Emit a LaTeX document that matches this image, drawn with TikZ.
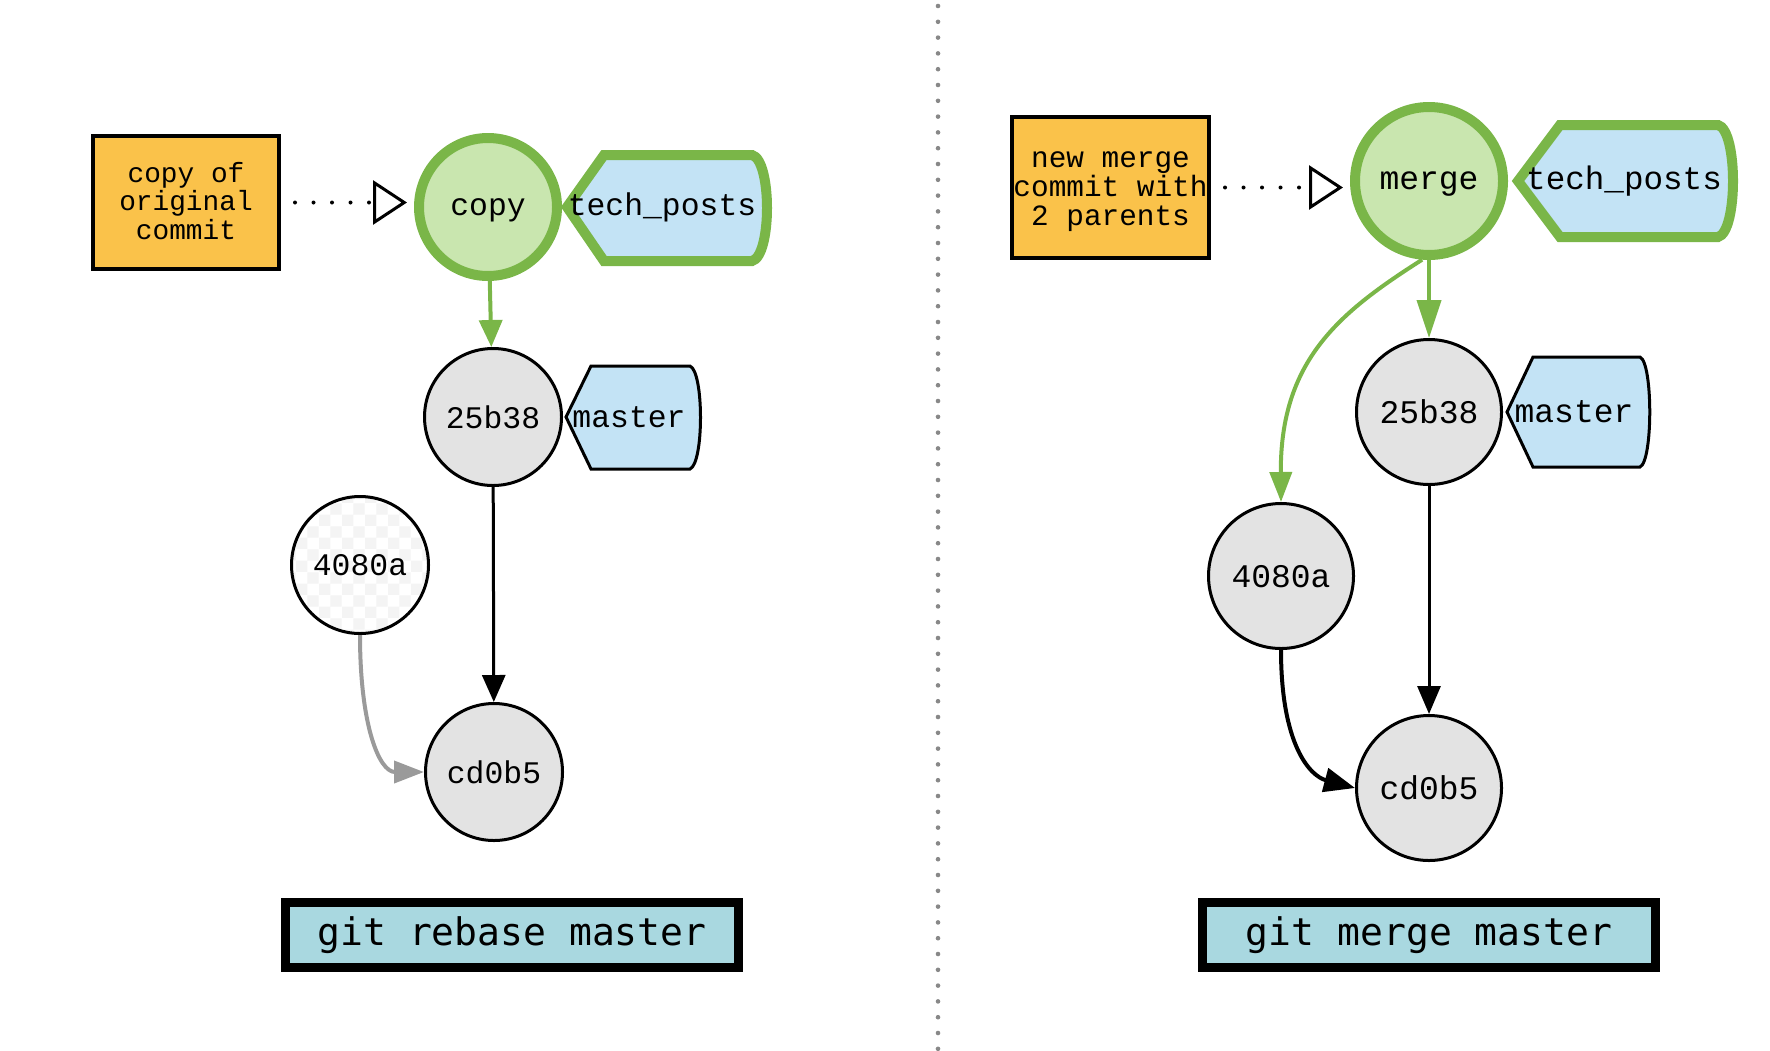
\documentclass[tikz,border=0pt]{standalone}
\usepackage{fontspec}
\setmonofont{Liberation Mono}
\newfontfamily\cmdfont{DejaVu Sans Mono}
\usetikzlibrary{arrows.meta,patterns}
\definecolor{orng}{HTML}{FAC24A}
\definecolor{grn}{HTML}{7AB648}
\definecolor{lgrn}{HTML}{C9E6AF}
\definecolor{lblue}{HTML}{C3E3F5}
\definecolor{cgray}{HTML}{E3E3E3}
\definecolor{cmdc}{HTML}{A9D8E0}
\definecolor{sepc}{HTML}{888888}
\definecolor{arrgray}{HTML}{9A9A9A}
\begin{document}
\begin{tikzpicture}[x=0.5pt,y=-0.5pt,
  commitL/.style={circle, draw=black, line width=1.5pt, fill=cgray, inner sep=0pt, minimum size=68.5pt, text depth=0pt, font=\ttfamily\fontsize{15.7}{18}\selectfont},
  commitR/.style={circle, draw=black, line width=1.5pt, fill=cgray, inner sep=0pt, minimum size=72.5pt, text depth=0pt, font=\ttfamily\fontsize{16.5}{19}\selectfont},
  headc/.style={circle, draw=grn, line width=5pt, fill=lgrn, inner sep=0pt, text depth=0pt},
  notebox/.style={draw=black, line width=2pt, fill=orng, inner sep=0pt},
  notetext/.style={align=center, inner sep=0pt},
  cmdbox/.style={draw=black, line width=4.5pt, fill=cmdc, inner sep=0pt, minimum width=226.5pt, minimum height=32.5pt, font=\cmdfont\fontsize{19}{22}\selectfont},
  tagtext/.style={inner sep=0pt},
  dotarrow/.style={line width=2pt, dash pattern=on 0pt off 9.25pt, line cap=round, -{Triangle[open, length=17pt, width=22pt, line width=1.5pt]}},
]
\useasboundingbox (0,0) rectangle (1770,1050);

% separator
\draw[sepc, line width=2.3pt, dash pattern=on 0pt off 7.9pt, line cap=round] (938,6) -- (938,1050);

% ---------- left: rebase ----------
\node[notebox, minimum width=93pt, minimum height=66.5pt] (noteL) at (186,202.5) {};
\node[notetext, font=\ttfamily\fontsize{13.9}{14.2}\selectfont] (noteLt) at (186,201) {copy of\\original\\commit};
\node[headc, minimum size=69pt, font=\ttfamily\fontsize{15.7}{18}\selectfont] (copy) at (488,207) {copy};
\draw[draw=grn, line width=5pt, fill=lblue, line join=miter] (567,207) -- (604,155) -- (752,155) .. controls (772,160) and (772,256) .. (752,261) -- (604,261) -- cycle;
\node[tagtext, font=\ttfamily\fontsize{15.7}{18}\selectfont] (tpL) at (662,207) {tech\_posts};

\node[commitL] (l25) at (493,417) {25b38};
\draw[draw=black, line width=1.5pt, fill=lblue, line join=miter] (566,417) -- (591,366) -- (690,366) .. controls (704,372) and (704,463) .. (690,469) -- (591,469) -- cycle;
\node[tagtext, font=\ttfamily\fontsize{15.7}{18}\selectfont] (msL) at (629,417) {master};

\node[commitL, fill=none, preaction={fill=white}, pattern=checkerboard, pattern color=gray!9] (l40) at (360,565) {4080a};
\node[commitL] (lcd) at (494,772) {cd0b5};

\draw[dotarrow, shorten <=7pt, shorten >=3.5pt] (noteL.east) -- (noteL.east -| copy.west);
\draw[grn, line width=2pt, -{Triangle[length=13.5pt,width=11.5pt]}] (copy) -- (l25);
\draw[line width=1.5pt, -{Triangle[length=13.5pt,width=11.5pt]}] (l25) -- (lcd);
\draw[arrgray, line width=2pt, -{Triangle[length=15pt,width=11pt]}] (l40.south) .. controls +(0,90) and +(-45,0) .. (lcd.west);

\node[cmdbox] (cmdL) at (512,935) {git rebase master};

% ---------- right: merge ----------
\node[notebox, minimum width=98.5pt, minimum height=70.5pt] (noteR) at (1110.5,187.5) {};
\node[notetext, font=\ttfamily\fontsize{14.7}{14.5}\selectfont] (noteRt) at (1110.5,192) {new merge\\commit with\\2 parents};
\node[headc, minimum size=74pt, font=\ttfamily\fontsize{16.5}{19}\selectfont] (merge) at (1429,181) {merge};
\draw[draw=grn, line width=5pt, fill=lblue, line join=miter] (1518,181) -- (1560,125) -- (1718,125) .. controls (1738,130) and (1738,232) .. (1718,237) -- (1560,237) -- cycle;
\node[tagtext, font=\ttfamily\fontsize{16.3}{19}\selectfont] (tpR) at (1624,181) {tech\_posts};

\node[commitR] (r25) at (1429,412) {25b38};
\draw[draw=black, line width=1.5pt, fill=lblue, line join=miter] (1507,412) -- (1533,357) -- (1640,357) .. controls (1653,363) and (1653,461) .. (1640,467) -- (1533,467) -- cycle;
\node[tagtext, font=\ttfamily\fontsize{16.5}{19}\selectfont] (msR) at (1574,412) {master};

\node[commitR] (r40) at (1281,576) {4080a};
\node[commitR] (rcd) at (1429,788) {cd0b5};

\draw[dotarrow, shorten <=7pt, shorten >=3.5pt] (noteR.east) -- (noteR.east -| merge.west);
\draw[grn, line width=2pt, -{Triangle[length=19pt,width=12pt]}] (merge) -- (r25);
\draw[grn, line width=2pt, -{Triangle[length=15pt,width=11pt]}] (merge.265) .. controls (1340,312) and (1280,360) .. (r40.north);
\draw[line width=1.5pt, -{Triangle[length=14pt,width=11.5pt]}] (r25) -- (rcd);
\draw[line width=2pt, -{Triangle[length=15.5pt,width=12pt]}] (r40.south) .. controls +(0,95) and +(-45,-12) .. (rcd.west);

\node[cmdbox] (cmdR) at (1429,935) {git merge master};
\end{tikzpicture}
\end{document}
